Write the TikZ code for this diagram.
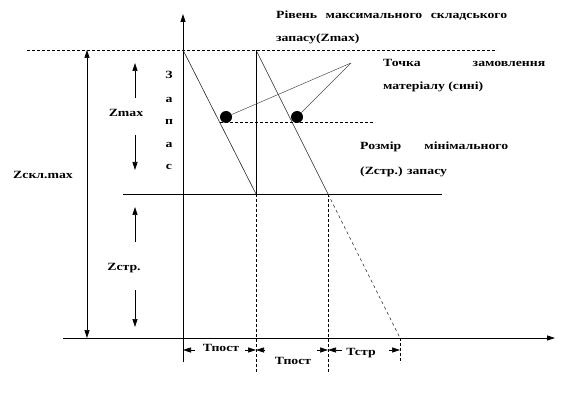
\documentclass[tikz,border=0pt]{standalone}
\usepackage{fontspec}
\setmainfont{Liberation Serif}
\usetikzlibrary{arrows.meta}
\newcommand\tx[1]{\scalebox{1.25}[1]{\bfseries #1}}
\begin{document}
\begin{tikzpicture}[x=1pt,y=-1pt,
  font=\fontsize{11}{13}\selectfont,
  lbl/.style={inner sep=0pt},
  axisline/.style={line width=0.8pt},
  diag/.style={line width=0.6pt, black!85},
  lead/.style={line width=0.5pt, black!70},
  dsh/.style={line width=0.6pt, dash pattern=on 3pt off 2pt},
  arr/.style={-{Triangle[length=8pt,width=5pt]}, line width=0.6pt},
  dotnode/.style={circle, fill=black, minimum size=12pt, inner sep=0pt}]
\useasboundingbox (0,0) rectangle (561,411);
% coordinates
\coordinate (ytop) at (183,14);
\coordinate (ybot) at (183,362);
\coordinate (xl) at (63,338);
\coordinate (xr) at (555,338);
\coordinate (dl) at (27,50);
\coordinate (dr) at (497,50);
\coordinate (ml) at (123,194);
\coordinate (mr) at (442,194);
\coordinate (a1) at (183,50);
\coordinate (b1) at (256,194);
\coordinate (a2) at (256,50);
\coordinate (b2) at (328,194);
\coordinate (c2) at (400,338);
\coordinate (v1b) at (256,373);
\coordinate (v2b) at (328,373);
\coordinate (v3b) at (400,363);
\coordinate (r1) at (220,122);
\coordinate (r2) at (375,122);
\coordinate (apex) at (351,63);
% axes
\draw[axisline, -{Triangle[length=8pt,width=5pt]}] (ybot) -- (ytop);
\draw[axisline, -{Triangle[length=8pt,width=5pt]}] (xl) -- (xr);
% levels
\draw[dsh] (dl) -- (dr);
\draw[axisline] (ml) -- (mr);
\draw[dsh] (r1) -- (r2);
% verticals
\draw[axisline] (a2) -- (b1);
\draw[dsh] (b1) -- (v1b);
\draw[dsh] (b2) -- (v2b);
\draw[dsh] (c2) -- (v3b);
% diagonals
\draw[diag] (a1) -- (b1);
\draw[diag] (a2) -- (b2);
\draw[diag, dash pattern=on 3pt off 3pt] (b2) -- (c2);
% order points
\node[dotnode] (p1) at (226,117) {};
\node[dotnode] (p2) at (297,117) {};
\draw[lead] (p1) -- (apex);
\draw[lead] (p2) -- (apex);
% left dimension arrows
\coordinate (zs1) at (87,50);
\coordinate (zs2) at (87,338);
\draw[line width=0.6pt, {Triangle[length=8pt,width=5pt]}-{Triangle[length=8pt,width=5pt]}] (zs1) -- (zs2);
\coordinate (zm1) at (135,98);
\coordinate (zm2) at (135,63);
\coordinate (zm3) at (135,135);
\coordinate (zm4) at (135,170);
\draw[arr] (zm1) -- (zm2);
\draw[arr] (zm3) -- (zm4);
\coordinate (zc1) at (135,242);
\coordinate (zc2) at (135,207);
\coordinate (zc3) at (135,290);
\coordinate (zc4) at (135,327);
\draw[arr] (zc1) -- (zc2);
\draw[arr] (zc3) -- (zc4);
% bottom dimension arrows
\coordinate (t1a) at (195,350); \coordinate (t1b) at (183,350);
\coordinate (t1c) at (245,350); \coordinate (t1d) at (256,350);
\coordinate (t2a) at (265,350); \coordinate (t2b) at (256,350);
\coordinate (t2c) at (317,350); \coordinate (t2d) at (328,350);
\coordinate (t3a) at (342,350); \coordinate (t3b) at (328,350);
\coordinate (t3c) at (389,350); \coordinate (t3d) at (400,350);
\draw[arr] (t1a) -- (t1b); \draw[arr] (t1c) -- (t1d);
\draw[arr] (t2a) -- (t2b); \draw[arr] (t2c) -- (t2d);
\draw[arr] (t3a) -- (t3b); \draw[arr] (t3c) -- (t3d);
% labels
\node[lbl] (lzskl) at (43,175) {\tx{Zскл.max}};
\node[lbl] (lzmax) at (126,113) {\tx{Zmax}};
\node[lbl] (lzstr) at (124,268) {\tx{Zстр.}};
\node[lbl] (lz1) at (169,75) {\tx{З}};
\node[lbl] (lz2) at (169,100) {\tx{а}};
\node[lbl] (lz3) at (169,122) {\tx{п}};
\node[lbl] (lz4) at (169,145) {\tx{а}};
\node[lbl] (lz5) at (169,167) {\tx{с}};
\node[lbl] (lt1) at (221,348) {\tx{Тпост}};
\node[lbl] (lt2) at (293,361) {\tx{Тпост}};
\node[lbl] (lt3) at (361,353) {\tx{Тстр}};
\node[lbl, anchor=west] (lr1) at (276,16) {\tx{\hbox to 184.8pt{Рівень\hfill максимального\hfill складського}}};
\node[lbl, anchor=west] (lr2) at (276,39) {\tx{запасу(Zmax)}};
\node[lbl, anchor=west] (lp1) at (383,63) {\tx{\hbox to 129.6pt{Точка\hfill замовлення}}};
\node[lbl, anchor=west] (lp2) at (383,87) {\tx{матеріалу (сині)}};
\node[lbl, anchor=west] (lm1) at (360,147) {\tx{\hbox to 118.4pt{Розмір\hfill мінімального}}};
\node[lbl, anchor=west] (lm2) at (360,172) {\tx{(Zстр.) запасу}};
\end{tikzpicture}
\end{document}
